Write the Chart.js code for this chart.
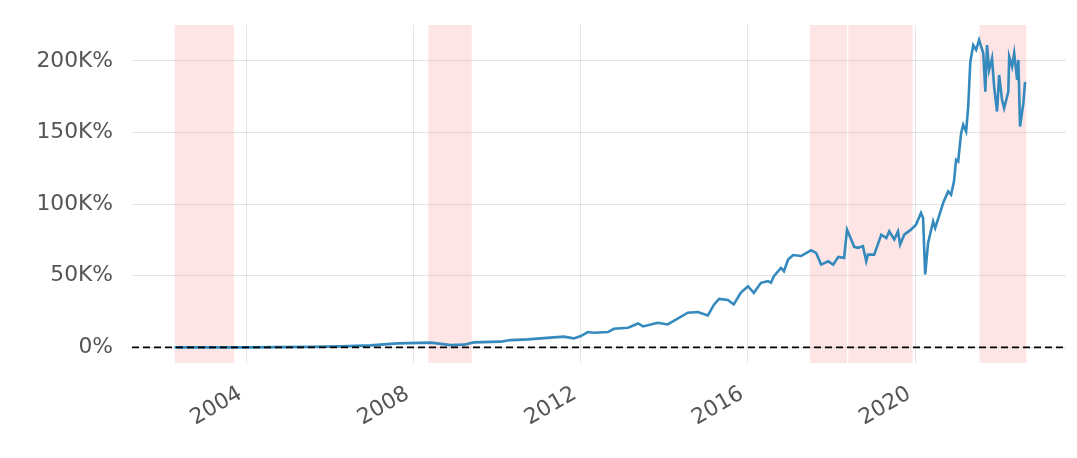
<!DOCTYPE html>
<html>
<head>
<meta charset="utf-8">
<script src="https://cdn.jsdelivr.net/npm/chart.js@4/dist/chart.umd.min.js"></script>
<style>
	html, body { margin: 0; padding: 0; background: #fff; }
	#wrap { width: 1077px; height: 458px; }
</style>
</head>
<body>
<div id="wrap"><canvas id="grafico" width="1077" height="458"></canvas></div>
<script>
const dates = [
	2002.28, 2002.90, 2004.00, 2004.81, 2005.53, 2006.25, 2006.97, 2007.62, 2008.41, 2008.89,
	2009.20, 2009.44, 2010.08, 2010.32, 2010.73, 2011.04, 2011.59, 2011.83, 2012.00, 2012.17,
	2012.31, 2012.65, 2012.79, 2013.13, 2013.37, 2013.49, 2013.84, 2014.08, 2014.56, 2014.80,
	2015.04, 2015.19, 2015.31, 2015.52, 2015.66, 2015.83, 2016.00, 2016.14, 2016.31, 2016.48,
	2016.55, 2016.62, 2016.79, 2016.86, 2016.96, 2017.08, 2017.27, 2017.51, 2017.63, 2017.75,
	2017.92, 2018.04, 2018.16, 2018.30, 2018.37, 2018.47, 2018.54, 2018.63, 2018.75, 2018.83,
	2018.87, 2019.02, 2019.19, 2019.31, 2019.38, 2019.50, 2019.59, 2019.64, 2019.74, 2019.90,
	2020.02, 2020.14, 2020.19, 2020.24, 2020.31, 2020.43, 2020.48, 2020.57, 2020.67, 2020.79,
	2020.86, 2020.93, 2020.98, 2021.03, 2021.10, 2021.15, 2021.22, 2021.27, 2021.32, 2021.39,
	2021.46, 2021.53, 2021.63, 2021.68, 2021.72, 2021.77, 2021.84, 2021.89, 2021.96, 2022.01,
	2022.08, 2022.13, 2022.23, 2022.25, 2022.32, 2022.37, 2022.44, 2022.47, 2022.51, 2022.59,
	2022.63
]

// cumulative return, thousands of percent
const returns = [
	0, 0, 0, 0.2, 0.35, 0.7, 1.4, 2.8, 3.3, 1.6,
	1.9, 3.5, 4.0, 5.1, 5.6, 6.3, 7.5, 6.3, 7.9, 10.7,
	10.2, 10.7, 13.0, 13.7, 16.7, 14.6, 17.2, 16.0, 24.2, 24.7,
	22.3, 30.0, 33.9, 33.1, 30.0, 38.3, 42.7, 38.1, 45.1, 46.2,
	45.1, 49.7, 55.5, 53.2, 61.3, 64.5, 63.8, 67.8, 66.0, 57.8,
	60.1, 57.8, 63.2, 62.5, 82.2, 75.3, 70.2, 69.5, 70.6, 60.1,
	64.8, 64.8, 78.7, 76.4, 81.0, 75.3, 81.0, 71.8, 78.7, 82.2,
	85.7, 93.9, 90.4, 51.0, 73.0, 88.0, 83.4, 91.5, 100.8, 108.9,
	106.6, 115.9, 131.0, 129.8, 149.6, 155.4, 150.7, 168.2, 199.3, 211.1,
	207.7, 214.6, 205.4, 178.6, 211.1, 193.7, 201.9, 182.1, 164.7, 190.2,
	172.8, 167.0, 178.6, 203.0, 196.0, 205.4, 186.8, 200.7, 154.2, 170.5,
	185.4
]

const shadeStarts = [2002.28, 2008.35, 2017.48, 2018.40, 2021.54]
const shadeEnds = [2003.70, 2009.39, 2018.37, 2019.94, 2022.66]

const xTicks = [2004, 2008, 2012, 2016, 2020]
const yTicks = [0, 50, 100, 150, 200]

const shadePlugin = {
	id: 'shade',
	beforeDraw: chart => {
		const { ctx, chartArea, scales } = chart
		ctx.save()
		ctx.fillStyle = 'rgba(248, 40, 40, 0.12)'
		shadeStarts.forEach((start, i) => {
			const x0 = scales.x.getPixelForValue(start)
			const x1 = scales.x.getPixelForValue(shadeEnds[i])
			ctx.fillRect(x0, chartArea.top, x1 - x0, chartArea.bottom - chartArea.top)
		})
		ctx.restore()
	},
	afterDatasetsDraw: chart => {
		const { ctx, chartArea, scales } = chart
		const y = scales.y.getPixelForValue(0)
		ctx.save()
		ctx.strokeStyle = '#000'
		ctx.lineWidth = 1.8
		ctx.setLineDash([7, 4])
		ctx.beginPath()
		ctx.moveTo(chartArea.left, y)
		ctx.lineTo(chartArea.right, y)
		ctx.stroke()
		ctx.restore()
	}
}

const tickFont = { family: 'DejaVu Sans', size: 21.8 }

const noPad = scale => {
	scale.paddingTop = 0
	scale.paddingBottom = 0
	scale.paddingLeft = 0
	scale.paddingRight = 0
}

const data = {
	datasets: [{
		label: 'Retorno acumulado',
		data: dates.map((d, i) => ({ x: d, y: returns[i] })),
		borderColor: '#348ABD',
		borderWidth: 2.6,
		pointRadius: 0,
		tension: 0
	}]
}

const config = {
	type: 'line',
	data: data,
	options: {
		animation: false,
		responsive: false,
		layout: { padding: { top: 25, right: 11, left: 0, bottom: 0 } },
		plugins: {
			legend: { display: false },
			tooltip: { enabled: false }
		},
		scales: {
			x: {
				type: 'linear',
				min: 2001.26,
				max: 2023.61,
				border: { display: false },
				grid: { color: 'rgba(0, 0, 0, 0.1)', lineWidth: 1, drawTicks: false },
				afterBuildTicks: scale => { scale.ticks = xTicks.map(v => ({ value: v })) },
				afterFit: scale => {
					scale.height = 95
					noPad(scale)
				},
				ticks: {
					color: '#555',
					font: tickFont,
					padding: 18,
					labelOffset: -6,
					minRotation: 30,
					maxRotation: 30,
					callback: v => String(v)
				}
			},
			y: {
				min: -10.9,
				max: 225.1,
				border: { display: false },
				grid: { color: 'rgba(0, 0, 0, 0.1)', lineWidth: 1, drawTicks: false },
				afterBuildTicks: scale => { scale.ticks = yTicks.map(v => ({ value: v })) },
				afterFit: scale => {
					scale.width = 132
					noPad(scale)
				},
				ticks: {
					color: '#555',
					font: tickFont,
					padding: 19,
					callback: v => v === 0 ? '0%' : v + 'K%'
				}
			}
		}
	},
	plugins: [shadePlugin]
}

new Chart(document.getElementById('grafico'), config)
</script>
</body>
</html>
